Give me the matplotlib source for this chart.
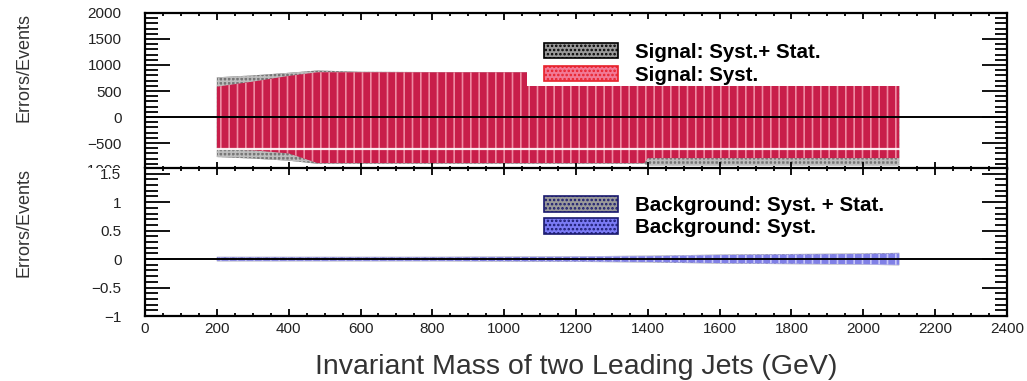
import numpy as np
import matplotlib
matplotlib.use("Agg")
import matplotlib.pyplot as plt
from matplotlib.patches import Patch, Rectangle
from matplotlib.ticker import MultipleLocator, FuncFormatter

plt.rcParams['font.family'] = ['Liberation Sans', 'DejaVu Sans']
plt.rcParams['hatch.linewidth'] = 1.2

# invariant mass points (GeV)
mass = [200, 300, 400, 480, 600, 800, 1000, 1200, 1390, 1400, 1600, 1800, 2000, 2100]
# signal errors (events)
sig_tot_up = [763, 800, 850, 895, 870, 865, 865, 865, 865, 865, 865, 865, 865, 865]
sig_sys_up = [583, 680, 790, 860, 860, 860, 860, 860, 860, 860, 860, 860, 860, 860]
sig_tot_dn = [-770, -800, -840, -900, -900, -900, -900, -900, -900, -930, -930, -930, -930, -930]
sig_sys_dn = [-621, -640, -700, -885, -885, -885, -885, -885, -885, -790, -790, -790, -790, -790]
sig_sys_edge = -621
# background errors (relative)
bkg_tot = [0.04, 0.04, 0.04, 0.04, 0.04, 0.04, 0.045, 0.05, 0.06, 0.06, 0.08, 0.09, 0.1, 0.11]
bkg_sys = [0.03, 0.03, 0.03, 0.03, 0.03, 0.03, 0.035, 0.04, 0.05, 0.05, 0.07, 0.08, 0.09, 0.1]

x_ticks = np.arange(0, 2401, 200)

mass = np.array(mass)
bkg_tot = np.array(bkg_tot)
bkg_sys = np.array(bkg_sys)

fig = plt.figure(figsize=(10.27, 3.81), dpi=100)
ax1 = fig.add_axes([0.1412, 0.5564, 0.8393, 0.4095])
ax2 = fig.add_axes([0.1412, 0.1706, 0.8393, 0.3884])
ax2.set_zorder(ax1.get_zorder() + 1)


def minus(v, pos):
    return ('%g' % v).replace('-', '\u2212')


def style(ax, ymaj, ymin):
    ax.set_xlim(0, 2400)
    ax.xaxis.set_major_locator(MultipleLocator(200))
    ax.xaxis.set_minor_locator(MultipleLocator(50))
    ax.yaxis.set_major_locator(MultipleLocator(ymaj))
    ax.yaxis.set_minor_locator(MultipleLocator(ymin))
    ax.yaxis.set_major_formatter(FuncFormatter(minus))
    ax.tick_params(axis='x', which='major', direction='in', top=True, length=5, width=1.3)
    ax.tick_params(axis='x', which='minor', direction='in', top=True, length=2.5, width=1.3)
    ax.tick_params(axis='y', which='major', direction='in', right=True, length=18, width=1.3,
                   pad=17, labelsize=11, labelcolor='#222222')
    ax.tick_params(axis='y', which='minor', direction='in', right=True, length=9, width=1.3)
    for s in ax.spines.values():
        s.set_linewidth(1.6)
    ax.axhline(0, color='black', lw=1.4, zorder=5)
    ax.set_ylabel('Errors/Events', loc='top', fontsize=13, color='#333333')
    ax.yaxis.set_label_coords(-0.131, 1.0)


# top panel: signal
ax1.fill_between(mass, sig_tot_dn, sig_tot_up, facecolor='#767676', edgecolor='#bdbdbd',
                 hatch='++++', linewidth=0, zorder=1)
ax1.fill_between(mass, sig_sys_dn, sig_sys_up, facecolor='#c81e4a', edgecolor='#ee8aa2',
                 hatch='||', linewidth=0, zorder=2)
ax1.plot([mass[0], mass[-1]], [sig_sys_edge, sig_sys_edge], color='white', lw=1.6, alpha=0.9, zorder=3)
ax1.set_ylim(-1000, 2000)
style(ax1, 500, 100)
ax1.tick_params(axis='x', labelbottom=False)
ax1.add_patch(Rectangle((0.443, 0.53), 0.52, 0.43, transform=ax1.transAxes,
                        facecolor='white', edgecolor='none', zorder=6))
h1 = [Patch(facecolor='#9a9a9a', edgecolor='black', hatch='....', lw=1.2),
      Patch(facecolor='#f27a96', edgecolor='#e8202a', hatch='....', lw=1.2)]
ax1.legend(h1, ['Signal: Syst.+ Stat.', 'Signal: Syst.'], loc='upper left',
           bbox_to_anchor=(0.463, 0.81), frameon=False, prop={'weight': 'bold', 'size': 14.8},
           handlelength=3.6, handleheight=0.8, labelspacing=0.2, handletextpad=0.8,
           borderaxespad=0, borderpad=0).set_zorder(7)

# bottom panel: background
ax2.add_patch(Rectangle((-0.2, 0.0), 0.2, 1.0, transform=ax2.transAxes, clip_on=False,
                        facecolor='white', edgecolor='none', zorder=0.5))
ax2.fill_between(mass, -bkg_tot, bkg_tot, facecolor='#9090a0', edgecolor='#d0d0e0',
                 hatch='++++', linewidth=0, zorder=1)
ax2.fill_between(mass, -bkg_sys, bkg_sys, facecolor='#8080e6', edgecolor='#c8c8f8',
                 hatch='||', linewidth=0, zorder=2)
ax2.set_ylim(-1, 1.6)
style(ax2, 0.5, 0.1)
ax2.set_xticks(x_ticks)
ax2.tick_params(axis='x', labelsize=11, pad=4, labelcolor='#222222')
ax2.set_xlabel('Invariant Mass of two Leading Jets (GeV)', fontsize=20.5, color='#333333', labelpad=13)
h2 = [Patch(facecolor='#9a9a9a', edgecolor='#1a1a6e', hatch='....', lw=1.2),
      Patch(facecolor='#7b7bf5', edgecolor='#1a1a6e', hatch='....', lw=1.2)]
ax2.legend(h2, ['Background: Syst. + Stat.', 'Background: Syst.'], loc='upper left',
           bbox_to_anchor=(0.463, 0.81), frameon=False, prop={'weight': 'bold', 'size': 14.8},
           handlelength=3.6, handleheight=0.8, labelspacing=0.15, handletextpad=0.8,
           borderaxespad=0, borderpad=0)

fig.savefig('out.png', dpi=100)
